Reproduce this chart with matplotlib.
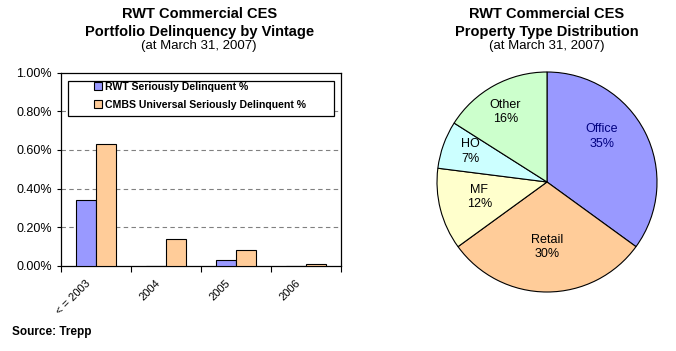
import numpy as np
import matplotlib
matplotlib.use("Agg")
import matplotlib.pyplot as plt
from matplotlib.patches import Rectangle
from matplotlib.transforms import ScaledTranslation

plt.rcParams['font.family'] = ['Liberation Sans', 'DejaVu Sans']

# === data ===
vintages = ['< = 2003', '2004', '2005', '2006']
rwt_delinq = [0.34, 0.0, 0.03, 0.0]      # %
cmbs_delinq = [0.63, 0.14, 0.08, 0.01]   # %
y_ticks = [0.0, 0.2, 0.4, 0.6, 0.8, 1.0]

prop_types = ['Office', 'Retail', 'MF', 'HO', 'Other']
prop_share = [35, 30, 12, 7, 16]

# === styles ===
c_rwt = '#9999FF'
c_cmbs = '#FFCC99'
pie_colors = ['#9999FF', '#FFCC99', '#FFFFCC', '#CCFFFF', '#CCFFCC']
label_colors = ['#000080', 'black', 'black', 'black', 'black']
label_radius = [0.645, 0.59, 0.63, 0.75, 0.74]
label_shift = [12.6, 0, -2, -2, 2]   # degrees

fig = plt.figure(figsize=(6.76, 3.51), dpi=100)
W, H = 676, 351

# ---- bar chart ----
ax = fig.add_axes([61 / W, 1 - 265.7 / H, 280 / W, 193 / H])
x = np.arange(len(vintages))
bw = 0.29
ax.bar(x - bw / 2, rwt_delinq, bw, color=c_rwt, edgecolor='black', linewidth=0.8,
       label='RWT Seriously Delinquent %', zorder=3)
ax.bar(x + bw / 2, cmbs_delinq, bw, color=c_cmbs, edgecolor='black', linewidth=0.8,
       label='CMBS Universal Seriously Delinquent %', zorder=3)

ax.set_xlim(-0.5, len(vintages) - 0.5)
ax.set_ylim(0, 1.0)
ax.set_yticks(y_ticks)
ax.set_yticklabels([f'{v:.2f}%' for v in y_ticks], fontsize=9)
ax.tick_params(axis='y', direction='out', length=3, width=0.8, pad=3.5)

ax.set_xticks(x)
ax.set_xticklabels(vintages, fontsize=8, rotation=45, ha='right', va='top')
ax.set_xticks(np.arange(len(vintages) + 1) - 0.5, minor=True)
ax.tick_params(axis='x', which='major', length=0, pad=9)
ax.tick_params(axis='x', which='minor', direction='out', length=4, width=0.8)
off = ScaledTranslation(-4 / 100, 0, fig.dpi_scale_trans)
for lab in ax.get_xticklabels():
    lab.set_transform(lab.get_transform() + off)

for v in y_ticks[1:-1]:
    ax.axhline(v, color='#808080', linestyle=(0, (4, 3)), linewidth=0.8, zorder=1)
for s in ax.spines.values():
    s.set_linewidth(0.9)
    s.set_color('black')

# legend box
ax.add_patch(Rectangle((0.025, 0.776), 0.95, 0.181, transform=ax.transAxes,
                       facecolor='white', edgecolor='black', linewidth=0.9, zorder=4))
leg = ax.legend(loc='upper left', bbox_to_anchor=(0.118, 0.952), frameon=False,
                borderpad=0, borderaxespad=0, handlelength=0.75, handleheight=0.75,
                handletextpad=0.25, labelspacing=0.72,
                prop={'size': 7.6, 'weight': 'bold'})
leg.set_zorder(5)

fig.text(200 / W, 1 - 14.3 / H, 'RWT Commercial CES', ha='center', va='center',
         fontsize=10.5, fontweight='bold')
fig.text(200 / W, 1 - 31.7 / H, 'Portfolio Delinquency by Vintage', ha='center',
         va='center', fontsize=10.5, fontweight='bold')
fig.text(199 / W, 1 - 46.3 / H, '(at March 31, 2007)', ha='center', va='center',
         fontsize=9.5)
fig.text(12 / W, 1 - 332 / H, 'Source: Trepp', ha='left', va='center',
         fontsize=8.5, fontweight='bold')

# ---- pie chart ----
cx, cy, r = 547, 182, 110
pax = fig.add_axes([(cx - r) / W, 1 - (cy + r) / H, 2 * r / W, 2 * r / H])
wedges, _ = pax.pie(prop_share, colors=pie_colors, startangle=90, counterclock=False,
                    wedgeprops={'edgecolor': 'black', 'linewidth': 0.8})
pax.set_xlim(-1, 1)
pax.set_ylim(-1, 1)
for i, w in enumerate(wedges):
    ang = np.deg2rad((w.theta1 + w.theta2) / 2 + label_shift[i])
    rr = label_radius[i]
    pax.text(rr * np.cos(ang), rr * np.sin(ang), f'{prop_types[i]}\n{prop_share[i]}%',
             ha='center', va='center', fontsize=9, color=label_colors[i],
             linespacing=1.3)

fig.text(547 / W, 1 - 14.3 / H, 'RWT Commercial CES', ha='center', va='center',
         fontsize=10.5, fontweight='bold')
fig.text(547 / W, 1 - 31.7 / H, 'Property Type Distribution', ha='center',
         va='center', fontsize=10.5, fontweight='bold')
fig.text(547 / W, 1 - 46.3 / H, '(at March 31, 2007)', ha='center', va='center',
         fontsize=9.5)

fig.savefig('out.png', dpi=100)
